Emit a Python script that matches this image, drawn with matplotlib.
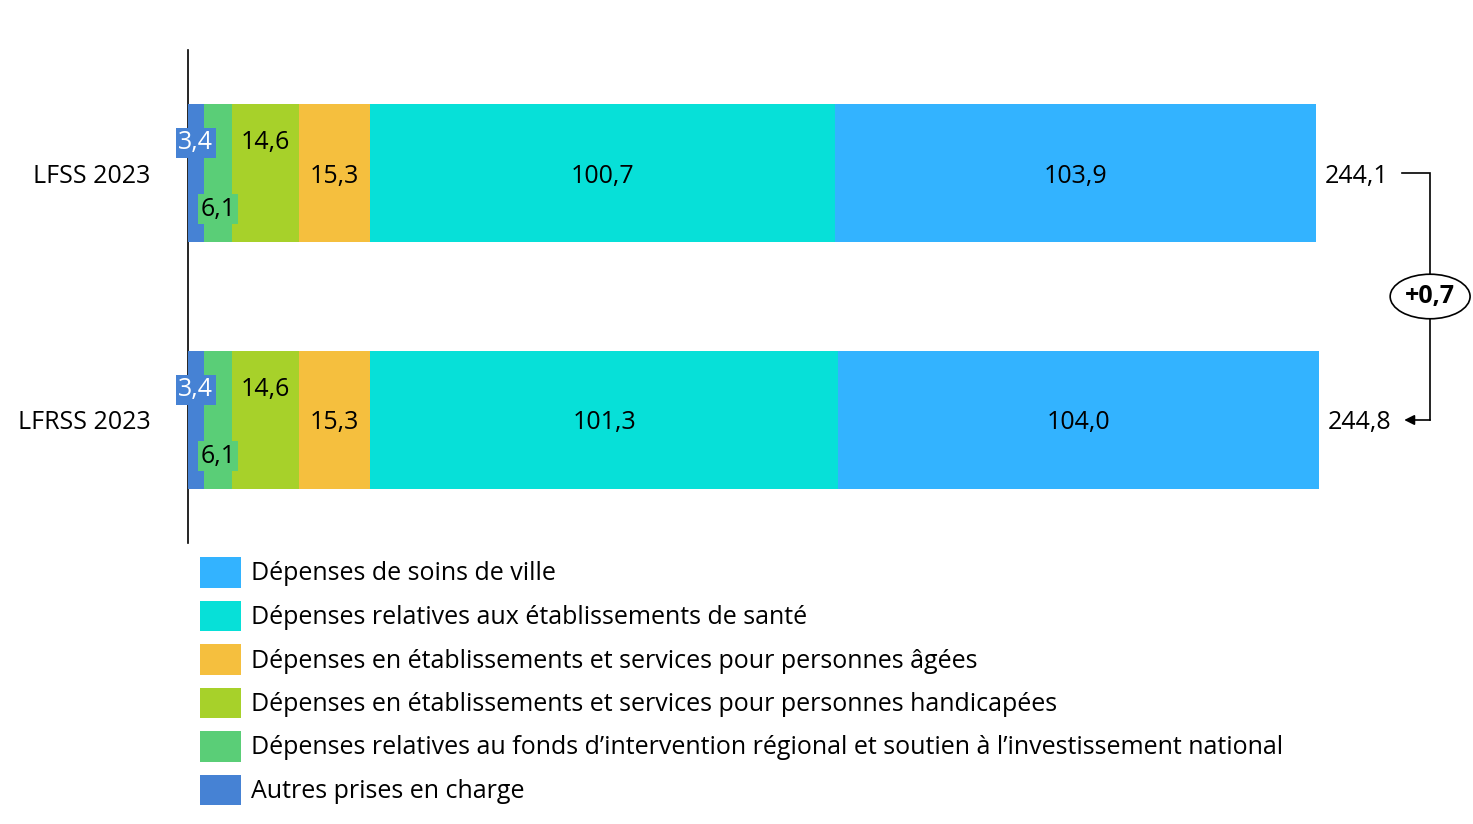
import matplotlib
matplotlib.use("Agg")
import matplotlib.pyplot as plt
from matplotlib.patches import Patch

plt.rcParams['font.family'] = ['Open Sans', 'DejaVu Sans']

categories = ["LFSS 2023", "LFRSS 2023"]
series_names = [
    "Autres prises en charge",
    "Dépenses relatives au fonds d\u2019intervention régional et soutien à l\u2019investissement national",
    "Dépenses en établissements et services pour personnes handicapées",
    "Dépenses en établissements et services pour personnes âgées",
    "Dépenses relatives aux établissements de santé",
    "Dépenses de soins de ville",
]
autres = [3.4, 3.4]
fir = [6.1, 6.1]
handicap = [14.6, 14.6]
ages = [15.3, 15.3]
etab_sante = [100.7, 101.3]
ville = [103.9, 104.0]
totals = [244.1, 244.8]
series_values = [autres, fir, handicap, ages, etab_sante, ville]
colors = ["#4682D4", "#5ACE77", "#A7D12A", "#F5BF3E", "#07E0D8", "#33B3FF"]
text_colors = ["white", "black", "black", "black", "black", "black"]
# vertical label shift in points (small segments)
label_shift = [24, -24, 24, 0, 0, 0]

def fmt(v):
    return f"{v:.1f}".replace(".", ",")

W, H = 1473, 824
fig = plt.figure(figsize=(W / 100, H / 100), dpi=100)
ax = fig.add_axes([188 / W, 1 - 543 / H, (W - 188) / W, 493 / H])

FS = 18
ypos = [0, 1]
lefts = [0.0, 0.0]
for i, (name, vals) in enumerate(zip(series_names, series_values)):
    bars = ax.barh(ypos, vals, left=lefts, height=0.555, color=colors[i], label=name, zorder=2)
    for j, b in enumerate(bars):
        cx = b.get_x() + b.get_width() / 2
        cy = b.get_y() + b.get_height() / 2
        kw = {}
        if i in (0, 1):
            kw["bbox"] = dict(boxstyle="square,pad=0.1", fc=colors[i], ec="none")
        ax.annotate(fmt(vals[j]), (cx, cy), xytext=(0, label_shift[i]), textcoords="offset points",
                    ha="center", va="center_baseline", fontsize=FS, color=text_colors[i], zorder=5, **kw)
    lefts = [l + v for l, v in zip(lefts, vals)]

for j, t in enumerate(totals):
    ax.annotate(fmt(t), (t, ypos[j]), xytext=(6, 0), textcoords="offset points",
                ha="left", va="center_baseline", fontsize=FS, color="black")

ax.set_xlim(0, (W - 188) / 4.621)
ax.set_ylim(1.498, -0.498)
for s in ["top", "right", "bottom"]:
    ax.spines[s].set_visible(False)
ax.spines["left"].set_linewidth(1.2)
ax.spines["left"].set_zorder(1)
ax.set_xticks([])
ax.set_yticks(ypos)
ax.set_yticklabels(categories, fontsize=FS)
ax.tick_params(axis="y", length=0, pad=27)

# bracket showing the difference
xb = max(totals) + 24.0
x_start_top = totals[0] + 18.6
x_end_bot = totals[1] + 18.4
ax.plot([x_start_top, xb, xb, xb], [ypos[0], ypos[0], 0.5, ypos[1]], color="black", lw=1.2,
        clip_on=False, solid_joinstyle="miter")
ax.annotate("", xy=(x_end_bot, ypos[1]), xytext=(xb, ypos[1]),
            arrowprops=dict(arrowstyle="-|>,head_length=0.6,head_width=0.3", color="black", lw=1.2,
                            shrinkA=0, shrinkB=0),
            annotation_clip=False)
diff = totals[1] - totals[0]
ax.text(xb, 0.5, "+" + fmt(diff), ha="center", va="center", fontsize=FS, fontweight="bold",
        bbox=dict(boxstyle="ellipse,pad=0.13", fc="white", ec="black", lw=1.2), zorder=6, clip_on=False)

handles = [Patch(facecolor=c, edgecolor="none") for c in colors[::-1]]
fig.legend(handles, series_names[::-1], loc="upper left", bbox_to_anchor=(190 / W, 1 - 547 / H),
           frameon=False, fontsize=18, handlelength=1.64, handleheight=1.5, handletextpad=0.4,
           labelspacing=0.52, borderaxespad=0)

fig.savefig("out.png", dpi=100)
